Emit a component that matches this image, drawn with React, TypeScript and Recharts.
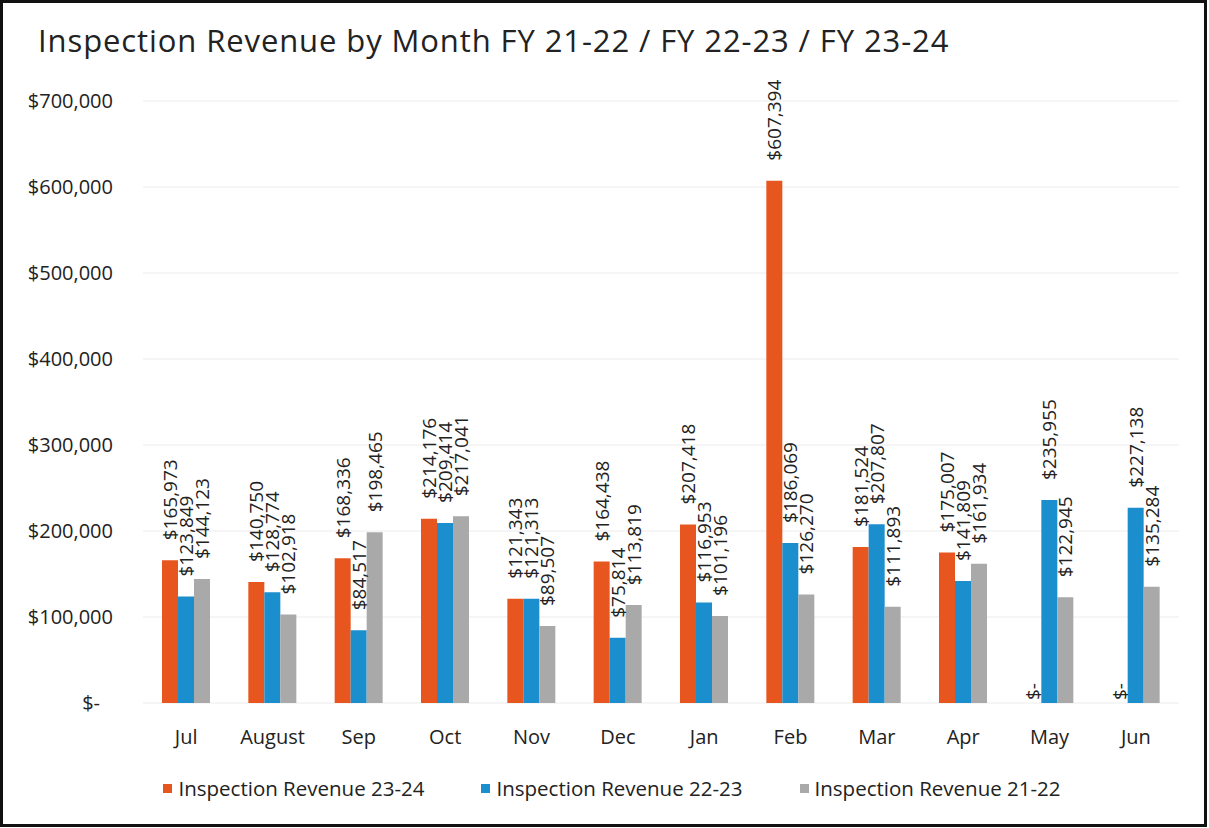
import React from "react";
import { BarChart, Bar, XAxis, YAxis, CartesianGrid, Legend, LabelList } from "recharts";

const months = ["Jul", "August", "Sep", "Oct", "Nov", "Dec", "Jan", "Feb", "Mar", "Apr", "May", "Jun"];
const rev2324 = [165973, 140750, 168336, 214176, 121343, 164438, 207418, 607394, 181524, 175007, 0, 0];
const rev2223 = [123849, 128774, 84517, 209414, 121313, 75814, 116953, 186069, 207807, 141809, 235955, 227138];
const rev2122 = [144123, 102918, 198465, 217041, 89507, 113819, 101196, 126270, 111893, 161934, 122945, 135284];
const yTicks = [0, 100000, 200000, 300000, 400000, 500000, 600000, 700000];

const ORANGE = "#E8561F";
const BLUE = "#1B8ECE";
const GRAY = "#A9A9A9";
const FONT = "'Open Sans', sans-serif";

const data = months.map((m, i) => ({
	month: m,
	r2324: rev2324[i],
	r2223: rev2223[i],
	r2122: rev2122[i],
}));

const series = [
	{ key: "r2324", name: "Inspection Revenue 23-24", color: ORANGE },
	{ key: "r2223", name: "Inspection Revenue 22-23", color: BLUE },
	{ key: "r2122", name: "Inspection Revenue 21-22", color: GRAY },
];

const money = (v: number) => (Number(v) === 0 ? "$-" : "$" + Number(v).toLocaleString("en-US"));

function YTick(props: any) {
	const { y, payload } = props;
	const v = payload.value as number;
	const x = v === 0 ? 100 : 113;
	return (
		<text x={x} y={y} dy="0.36em" textAnchor="end" fontSize={20} fill="#222" fontFamily={FONT}>
			{money(v)}
		</text>
	);
}

function BarLabel(props: any) {
	const { x, y, width, height, value } = props;
	const cx = x + width / 2;
	const zero = Number(value) === 0;
	// zero bars: label sits right on the baseline
	const ty = zero ? y + height - 3 : y - 20;
	return (
		<text
			x={cx}
			y={ty}
			transform={`rotate(-90, ${cx}, ${ty})`}
			textAnchor="start"
			dominantBaseline="central"
			fontSize={19}
			fill="#222"
			fontFamily={FONT}
		>
			{money(value)}
		</text>
	);
}

function LegendContent() {
	return (
		<div
			style={{
				display: "flex",
				justifyContent: "center",
				alignItems: "center",
				height: 40,
				width: 1209,
				paddingLeft: 15,
				boxSizing: "border-box",
				gap: 57,
				fontFamily: FONT,
				fontSize: 20.5,
				color: "#222",
			}}
		>
			{series.map(s => (
				<div key={s.key} style={{ display: "flex", alignItems: "center" }}>
					<span style={{ width: 9, height: 9, background: s.color, display: "inline-block", marginRight: 6 }} />
					<span>{s.name}</span>
				</div>
			))}
		</div>
	);
}

export default function App() {
	return (
		<div style={{ position: "absolute", left: 0, top: 0, width: 1209, height: 828, background: "#fff" }}>
			<div
				style={{
					position: "absolute",
					left: 38,
					top: 25,
					fontFamily: FONT,
					fontSize: 31,
					letterSpacing: 0.9,
					lineHeight: "31px",
					color: "#222",
					whiteSpace: "nowrap",
				}}
			>
				Inspection Revenue by Month FY 21-22 / FY 22-23 / FY 23-24
			</div>
			<div style={{ position: "absolute", left: 0, top: 0 }}>
				<BarChart
					width={1209}
					height={828}
					data={data}
					margin={{ top: 101, right: 30, left: 0, bottom: 20 }}
					barGap={0}
					barSize={16}
				>
					<CartesianGrid vertical={false} stroke="#ececec" />
					<XAxis
						dataKey="month"
						axisLine={false}
						tickLine={false}
						tickSize={0}
						tickMargin={27}
						height={65}
						interval={0}
						tick={{ fontSize: 20, fill: "#222", fontFamily: FONT }}
					/>
					<YAxis
						width={143}
						domain={[0, 700000]}
						ticks={yTicks}
						axisLine={false}
						tickLine={false}
						tick={<YTick />}
					/>
					<Legend verticalAlign="bottom" content={<LegendContent />} />
					{series.map(s => (
						<Bar
							key={s.key}
							dataKey={s.key}
							name={s.name}
							fill={s.color}
							minPointSize={0.01}
							isAnimationActive={false}
						>
							<LabelList dataKey={s.key} content={<BarLabel />} />
						</Bar>
					))}
				</BarChart>
			</div>
			<div
				style={{
					position: "absolute",
					left: 0,
					top: 0,
					width: 1207,
					height: 827,
					border: "3px solid #111",
					boxSizing: "border-box",
					pointerEvents: "none",
				}}
			/>
		</div>
	);
}
